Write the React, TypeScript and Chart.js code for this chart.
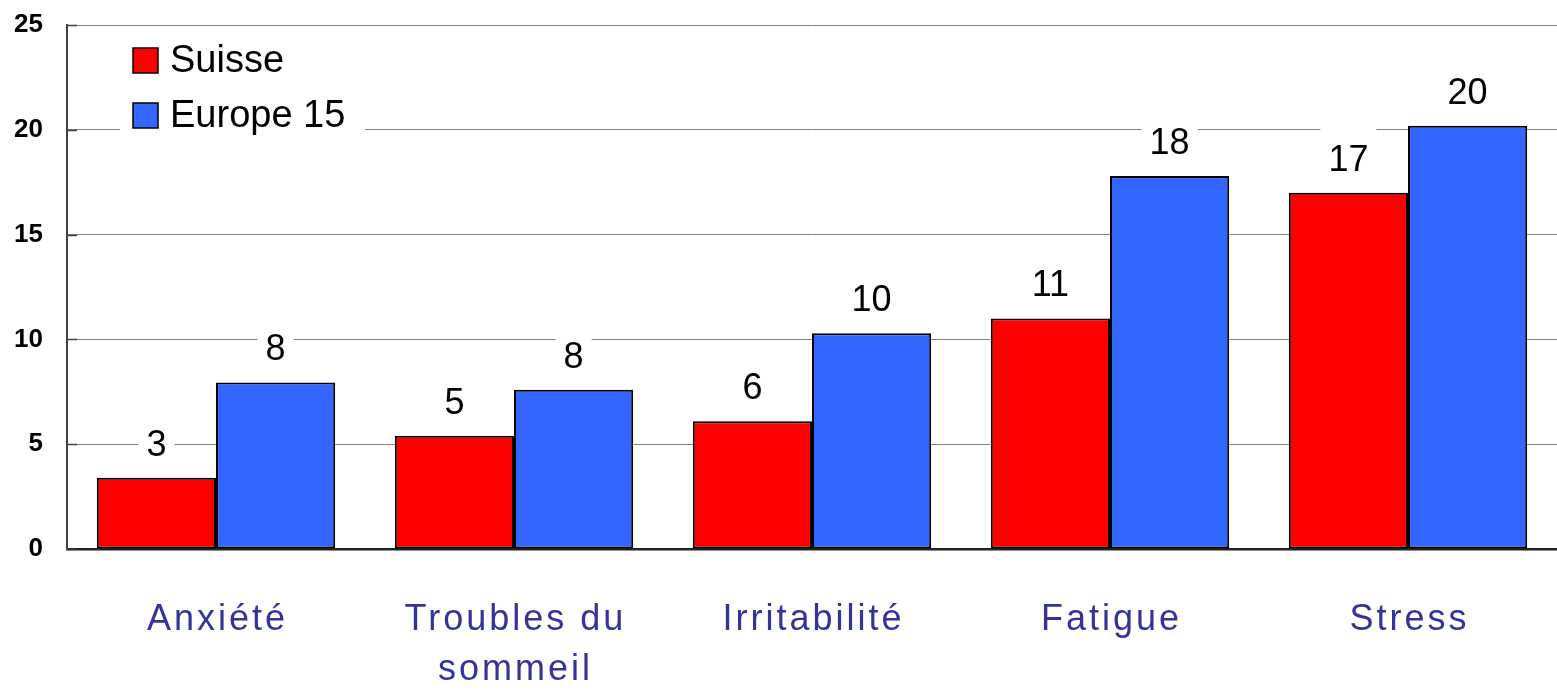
import React, { useEffect, useRef } from "react";
import { Chart, registerables } from "chart.js";

Chart.register(...registerables);

const categories: (string | string[])[] = ["Anxiété", ["Troubles du", "sommeil"], "Irritabilité", "Fatigue", "Stress"];
const suisseValues = [3.4, 5.4, 6.1, 11.0, 17.0];
const europeValues = [7.95, 7.6, 10.3, 17.8, 20.2];
const seriesNames = ["Suisse", "Europe 15"];
const yTicks = [0, 5, 10, 15, 20, 25];

const FONT = '"Liberation Sans", Arial, sans-serif';

const innerTicksPlugin = {
  id: "innerTicks",
  afterDraw(chart: any) {
    const { ctx } = chart;
    const y = chart.scales.y;
    const left = chart.chartArea.left;
    ctx.save();
    ctx.strokeStyle = "#404040";
    ctx.lineWidth = 1.5;
    yTicks.forEach((t) => {
      const py = Math.round(y.getPixelForValue(t)) + 0.5;
      ctx.beginPath();
      ctx.moveTo(left, py);
      ctx.lineTo(left + 10, py);
      ctx.stroke();
    });
    ctx.restore();
  },
};

const valueLabelsPlugin = {
  id: "valueLabels",
  afterDatasetsDraw(chart: any) {
    const { ctx } = chart;
    ctx.save();
    ctx.font = `36px ${FONT}`;
    ctx.textAlign = "center";
    ctx.textBaseline = "alphabetic";
    chart.data.datasets.forEach((ds: any, di: number) => {
      const meta = chart.getDatasetMeta(di);
      meta.data.forEach((bar: any, i: number) => {
        const text = String(Math.round(ds.data[i]));
        const w = ctx.measureText(text).width;
        const base = bar.y - 22;
        ctx.fillStyle = "#ffffff";
        ctx.fillRect(bar.x - w / 2 - 8, base - 44, w + 16, 54);
        ctx.fillStyle = "#000000";
        ctx.fillText(text, bar.x, base);
      });
    });
    ctx.restore();
  },
};

const xLabelsPlugin = {
  id: "xLabels",
  afterDraw(chart: any) {
    const { ctx } = chart;
    const x = chart.scales.x;
    ctx.save();
    ctx.font = `36px ${FONT}`;
    (ctx as any).letterSpacing = "3px";
    ctx.textAlign = "center";
    ctx.textBaseline = "alphabetic";
    ctx.fillStyle = "#333399";
    chart.data.labels.forEach((lab: any, i: number) => {
      const px = x.getPixelForValue(i) + 1.5;
      const lines = Array.isArray(lab) ? lab : [lab];
      lines.forEach((ln: string, li: number) => {
        ctx.fillText(ln, px, 630 + li * 50);
      });
    });
    ctx.restore();
  },
};

const legendPlugin = {
  id: "customLegend",
  afterDraw(chart: any) {
    const { ctx } = chart;
    ctx.save();
    ctx.fillStyle = "#ffffff";
    ctx.fillRect(120, 33, 245, 110);
    ctx.font = `38px ${FONT}`;
    ctx.textAlign = "left";
    ctx.textBaseline = "middle";
    chart.data.datasets.forEach((ds: any, i: number) => {
      const top = 48 + i * 55;
      ctx.fillStyle = ds.backgroundColor;
      ctx.fillRect(133, top, 25, 25);
      ctx.strokeStyle = "#000000";
      ctx.lineWidth = 1.5;
      ctx.strokeRect(133, top, 25, 25);
      ctx.fillStyle = "#000000";
      ctx.fillText(ds.label, 170, top + 14);
    });
    ctx.restore();
  },
};

export default function App() {
  const ref = useRef<HTMLCanvasElement>(null);
  useEffect(() => {
    document.body.style.margin = "0";
    if (!ref.current) return;
    const chart = new Chart(ref.current, {
      type: "bar",
      data: {
        labels: categories as any,
        datasets: [
          {
            label: seriesNames[0],
            data: suisseValues,
            backgroundColor: "#ff0000",
            borderColor: "#000000",
            borderWidth: 2,
            borderSkipped: false,
          },
          {
            label: seriesNames[1],
            data: europeValues,
            backgroundColor: "#3366ff",
            borderColor: "#000000",
            borderWidth: 2,
            borderSkipped: false,
          },
        ],
      },
      options: {
        responsive: false,
        animation: false,
        layout: { padding: { top: 0, right: 0, left: 0, bottom: 0 } },
        plugins: {
          legend: { display: false },
          tooltip: { enabled: false },
        },
        datasets: {
          bar: { categoryPercentage: 0.8, barPercentage: 1.0 },
        },
        scales: {
          x: {
            grid: { display: false },
            border: { display: true, color: "#222222", width: 2.5 },
            ticks: { display: false },
            afterFit: (s: any) => {
              s.height = 141;
            },
          },
          y: {
            min: 0,
            max: 25,
            grid: { color: "#808080", lineWidth: 1, drawTicks: false },
            border: { display: true, color: "#404040", width: 2 },
            ticks: {
              stepSize: 5,
              padding: 24,
              color: "#000000",
              font: { family: FONT, size: 26, weight: "bold", lineHeight: 0.08 },
            },
            afterFit: (s: any) => {
              s.width = 67;
            },
          },
        },
      },
      plugins: [innerTicksPlugin, valueLabelsPlugin, xLabelsPlugin, legendPlugin],
    });
    return () => chart.destroy();
  }, []);
  return (
    <div style={{ width: 1557, height: 690, background: "#fff" }}>
      <canvas ref={ref} width={1557} height={690} />
    </div>
  );
}
